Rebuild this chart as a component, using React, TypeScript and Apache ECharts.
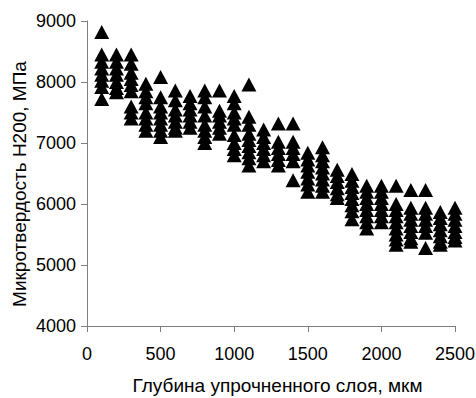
import React, { useEffect, useRef } from "react";
import * as echarts from "echarts";

// Depth of the hardened layer, µm (one column of measurements per depth)
const depths = [100, 200, 300, 400, 500, 600, 700, 800, 900, 1000, 1100, 1200, 1300, 1400, 1500, 1600, 1700, 1800, 1900, 2000, 2100, 2200, 2300, 2400, 2500];

// Microhardness H200, MPa, per depth
const hardness100 = [8820, 8450, 8330, 8220, 8120, 8020, 7920, 7720];
const hardness200 = [8450, 8330, 8220, 8120, 8000, 7900, 7830];
const hardness300 = [8450, 8300, 8150, 8050, 7950, 7850, 7600, 7500, 7400];
const hardness400 = [7970, 7850, 7750, 7650, 7500, 7400, 7300, 7200];
const hardness500 = [8080, 7750, 7600, 7500, 7400, 7300, 7200, 7100];
const hardness600 = [7860, 7700, 7550, 7450, 7350, 7250, 7200];
const hardness700 = [7770, 7650, 7550, 7450, 7350, 7250];
const hardness800 = [7860, 7750, 7600, 7450, 7300, 7200, 7100, 7000];
const hardness900 = [7860, 7530, 7450, 7350, 7250, 7150];
const hardness1000 = [7770, 7650, 7500, 7400, 7300, 7130, 7000, 6900, 6800];
const hardness1100 = [7960, 7430, 7300, 7150, 7050, 6950, 6850, 6750, 6630];
const hardness1200 = [7220, 7100, 7000, 6900, 6800, 6700];
const hardness1300 = [7320, 7020, 6920, 6820, 6720, 6630];
const hardness1400 = [7320, 7020, 6920, 6820, 6700, 6390];
const hardness1500 = [6840, 6730, 6630, 6530, 6420, 6320, 6200];
const hardness1600 = [6930, 6800, 6700, 6600, 6500, 6400, 6300, 6200];
const hardness1700 = [6560, 6460, 6360, 6260, 6160, 6100];
const hardness1800 = [6490, 6380, 6280, 6180, 6080, 5980, 5880, 5750];
const hardness1900 = [6300, 6200, 6100, 6000, 5900, 5800, 5700, 5600];
const hardness2000 = [6300, 6200, 6100, 6000, 5900, 5800, 5700];
const hardness2100 = [6300, 6000, 5900, 5800, 5700, 5600, 5500, 5420, 5330];
const hardness2200 = [6230, 5940, 5840, 5740, 5640, 5540, 5440, 5380];
const hardness2300 = [6230, 5940, 5840, 5740, 5640, 5530, 5280];
const hardness2400 = [5870, 5770, 5670, 5570, 5470, 5380, 5330];
const hardness2500 = [5940, 5840, 5740, 5640, 5540, 5460, 5400];

const hardnessByDepth = [
  hardness100, hardness200, hardness300, hardness400, hardness500,
  hardness600, hardness700, hardness800, hardness900, hardness1000,
  hardness1100, hardness1200, hardness1300, hardness1400, hardness1500,
  hardness1600, hardness1700, hardness1800, hardness1900, hardness2000,
  hardness2100, hardness2200, hardness2300, hardness2400, hardness2500,
];

const xTitle = "Глубина упрочненного слоя, мкм";
const yTitle = "Микротвердость Н200, МПа";

const FONT = "'Liberation Sans', Arial, sans-serif";

export default function App() {
  const ref = useRef<HTMLDivElement>(null);

  useEffect(() => {
    if (!ref.current) return;
    const chart = echarts.init(ref.current, null, { renderer: "svg" });
    const points: number[][] = [];
    depths.forEach((d, i) => {
      hardnessByDepth[i].forEach((v) => points.push([d, v]));
    });
    const axisColor = "#808080";
    const plain = (v: number) => String(v);
    chart.setOption({
      animation: false,
      backgroundColor: "#ffffff",
      grid: { left: 87, right: 21, top: 21, bottom: 72, outerBoundsMode: "none", containLabel: false },
      xAxis: {
        type: "value",
        min: 0,
        max: 2500,
        interval: 500,
        axisLine: { show: true, lineStyle: { color: axisColor, width: 1 } },
        axisTick: { show: true, inside: false, length: 6, lineStyle: { color: axisColor } },
        axisLabel: { fontFamily: FONT, fontSize: 18, color: "#000", margin: 19, formatter: plain },
        splitLine: { show: false },
      },
      yAxis: {
        type: "value",
        min: 4000,
        max: 9000,
        interval: 1000,
        axisLine: { show: true, lineStyle: { color: axisColor, width: 1 } },
        axisTick: { show: true, inside: false, length: 6, lineStyle: { color: axisColor } },
        axisLabel: { fontFamily: FONT, fontSize: 18, color: "#000", margin: 11, formatter: plain },
        splitLine: { show: false },
      },
      graphic: [
        {
          type: "text",
          x: 277.5,
          y: 385,
          style: {
            text: xTitle,
            fontFamily: FONT,
            fontSize: 19,
            fill: "#000",
            align: "center",
            verticalAlign: "middle",
          },
        },
        {
          type: "text",
          x: 19.5,
          y: 184,
          rotation: Math.PI / 2,
          style: {
            text: yTitle,
            fontFamily: FONT,
            fontSize: 19,
            fill: "#000",
            align: "center",
            verticalAlign: "middle",
          },
        },
      ],
      series: [
        {
          type: "scatter",
          data: points,
          symbol: "triangle",
          symbolSize: [15, 14],
          itemStyle: { color: "#000000", opacity: 1 },
        },
      ],
    });
    return () => chart.dispose();
  }, []);

  return (
    <div
      ref={ref}
      style={{ position: "fixed", left: 0, top: 0, width: 476, height: 398, background: "#fff" }}
    />
  );
}
